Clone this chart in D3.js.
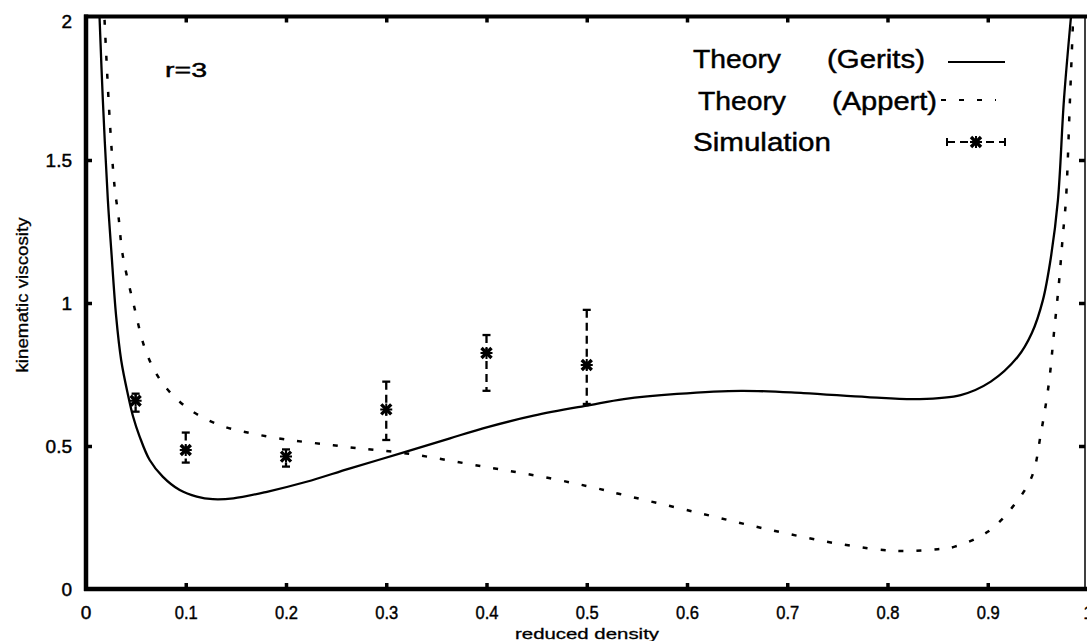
<!DOCTYPE html>
<html>
<head>
<meta charset="utf-8">
<script src="https://cdn.jsdelivr.net/npm/d3@7/dist/d3.min.js"></script>
<style>
  html, body { margin: 0; padding: 0; background: #fff; }
  svg { display: block; }
  text { font-family: "Liberation Sans", Arial, Helvetica, sans-serif; fill: #000; }
</style>
</head>
<body>
<svg id="chart" width="1087" height="641"></svg>
<script>
// ---------------- data ----------------
const xTickValues = [0, 0.1, 0.2, 0.3, 0.4, 0.5, 0.6, 0.7, 0.8, 0.9, 1];
const xTickLabels = ["0", "0.1", "0.2", "0.3", "0.4", "0.5", "0.6", "0.7", "0.8", "0.9", "1"];
const yTickValues = [0, 0.5, 1, 1.5, 2];
const yTickLabels = ["0", "0.5", "1", "1.5", "2"];

// Theory (Gerits) - solid curve
const gerDensity = [0.014, 0.0173, 0.0223, 0.0257, 0.0306, 0.0356, 0.0423, 0.0473, 0.054, 0.064,
  0.077, 0.094, 0.111, 0.127, 0.1475, 0.181, 0.2205, 0.264, 0.32, 0.3636, 0.402, 0.447, 0.503,
  0.537, 0.59, 0.654, 0.716, 0.78, 0.83, 0.873, 0.903, 0.93, 0.944, 0.955, 0.963, 0.97, 0.976, 0.983];
const gerViscosity = [2.0, 1.71, 1.36, 1.185, 0.952, 0.80, 0.68, 0.605, 0.533, 0.451,
  0.393, 0.346, 0.323, 0.314, 0.317, 0.34, 0.375, 0.422, 0.48, 0.527, 0.567, 0.606, 0.643,
  0.664, 0.682, 0.693, 0.685, 0.671, 0.664, 0.678, 0.725, 0.812, 0.895, 1.01, 1.16, 1.36, 1.71, 2.0];

// Theory (Appert) - dashed curve
const appDensity = [0.019, 0.024, 0.029, 0.033, 0.037, 0.0477, 0.061, 0.077, 0.102, 0.134, 0.17,
  0.21, 0.247, 0.264, 0.32, 0.397, 0.4635, 0.51, 0.533, 0.607, 0.68, 0.753, 0.81, 0.85, 0.867,
  0.90, 0.925, 0.944, 0.953, 0.961, 0.966, 0.971, 0.975, 0.978, 0.982, 0.985];
const appViscosity = [1.99, 1.65, 1.407, 1.30, 1.17, 1.0, 0.824, 0.719, 0.632, 0.573, 0.541,
  0.518, 0.503, 0.495, 0.474, 0.428, 0.387, 0.352, 0.332, 0.27, 0.209, 0.157, 0.133, 0.139, 0.148,
  0.2, 0.288, 0.393, 0.544, 0.72, 0.894, 1.069, 1.24, 1.36, 1.71, 1.98];

// Simulation with error bars
const simDensity = [0.05, 0.1, 0.2, 0.3, 0.4, 0.5];
const simViscosity = [0.658, 0.486, 0.463, 0.628, 0.825, 0.783];
const simUpper = [0.683, 0.547, 0.488, 0.725, 0.888, 0.976];
const simLower = [0.62, 0.442, 0.428, 0.521, 0.693, 0.647];

const legendNames = [["Theory", "(Gerits)"], ["Theory", "(Appert)"], ["Simulation", ""]];
const annotation = "r=3";
const xTitle = "reduced density";
const yTitle = "kinematic viscosity";

// ---------------- chart ----------------
(function () {
const svg = d3.select("#chart");
svg.append("rect").attr("width", 1087).attr("height", 641).attr("fill", "#fff");

const x = d3.scaleLinear().domain([0, 1]).range([85.5, 1088]);
const y = d3.scaleLinear().domain([0, 2]).range([589, 17]);

const pL = 86, pR = 1085, pT = 16.5, pB = 589;
const inkStroke = sel => sel.attr("stroke", "#000").attr("stroke-width", 0.45);

svg.append("clipPath").attr("id", "plotclip")
  .append("rect").attr("x", pL).attr("y", pT).attr("width", pR - pL).attr("height", pB - pT);

// axes (ticks pointing inward)
const xAxisB = svg.append("g").attr("transform", `translate(0,${pB})`)
  .call(d3.axisBottom(x).tickValues(xTickValues).tickSize(-6).tickPadding(17)
    .tickFormat((d, i) => xTickLabels[i]));
const xAxisT = svg.append("g").attr("transform", `translate(0,${pT})`)
  .call(d3.axisTop(x).tickValues(xTickValues.slice(1, -1)).tickSize(-6).tickFormat(""));
const yAxisL = svg.append("g").attr("transform", `translate(${pL},0)`)
  .call(d3.axisLeft(y).tickValues(yTickValues).tickSize(-6).tickPadding(14)
    .tickFormat((d, i) => yTickLabels[i]));
const yAxisR = svg.append("g").attr("transform", `translate(${pR},0)`)
  .call(d3.axisRight(y).tickValues(yTickValues.slice(1, -1)).tickSize(-6).tickFormat(""));

[xAxisB, xAxisT, yAxisL, yAxisR].forEach(g => {
  g.select(".domain").remove();
  g.selectAll(".tick line").attr("stroke", "#000").attr("stroke-width", 3.5);
});
xAxisB.selectAll(".tick line").filter(d => d === 0 || d === 1).remove();
yAxisL.selectAll(".tick line").filter(d => d === 0 || d === 2).remove();

xAxisB.selectAll(".tick text")
  .attr("font-size", 19)
  .attr("font-family", "Liberation Sans, Arial, sans-serif")
  .call(inkStroke)
  .each(function (d, i) {
    if (xTickLabels[i].length > 1) d3.select(this).attr("textLength", 23).attr("lengthAdjust", "spacingAndGlyphs");
  });
yAxisL.selectAll(".tick text")
  .attr("font-size", 19)
  .attr("font-family", "Liberation Sans, Arial, sans-serif")
  .call(inkStroke);
yAxisL.selectAll(".tick text").filter(d => d === 2).attr("dy", "0.55em");

// frame
svg.append("line").attr("x1", pL).attr("x2", pL).attr("y1", pT - 2).attr("y2", pB + 2)
  .attr("stroke", "#000").attr("stroke-width", 4.5);
svg.append("line").attr("x1", pL - 2).attr("x2", 1087).attr("y1", pB).attr("y2", pB)
  .attr("stroke", "#000").attr("stroke-width", 4.5);
svg.append("line").attr("x1", pL - 2).attr("x2", 1087).attr("y1", pT).attr("y2", pT)
  .attr("stroke", "#000").attr("stroke-width", 4);
svg.append("line").attr("x1", pR).attr("x2", pR).attr("y1", pT).attr("y2", pB)
  .attr("stroke", "#000").attr("stroke-width", 1.5);

// curves
const plot = svg.append("g").attr("clip-path", "url(#plotclip)");
const line = d3.line().x(d => x(d[0])).y(d => y(d[1])).curve(d3.curveCatmullRom.alpha(0.5));

plot.append("path")
  .datum(gerDensity.map((d, i) => [d, gerViscosity[i]]))
  .attr("d", line).attr("fill", "none").attr("stroke", "#000").attr("stroke-width", 2.3);

plot.append("path")
  .datum(appDensity.map((d, i) => [d, appViscosity[i]]))
  .attr("d", line).attr("fill", "none").attr("stroke", "#000").attr("stroke-width", 2.5)
  .attr("stroke-dasharray", "5,13");

// simulation error bars
const sim = plot.append("g");
const cap = 4;
simDensity.forEach((d, i) => {
  const cx = x(d);
  const yu = y(simUpper[i]), yl = y(simLower[i]);
  sim.append("line").attr("x1", cx).attr("x2", cx).attr("y1", yu).attr("y2", yl)
    .attr("stroke", "#000").attr("stroke-width", 2.3).attr("stroke-dasharray", "8,5");
  sim.append("line").attr("x1", cx - cap).attr("x2", cx + cap).attr("y1", yu).attr("y2", yu)
    .attr("stroke", "#000").attr("stroke-width", 2.3);
  sim.append("line").attr("x1", cx - cap).attr("x2", cx + cap).attr("y1", yl).attr("y2", yl)
    .attr("stroke", "#000").attr("stroke-width", 2.3);
});
function star(g, cx, cy) {
  const r = 5;
  g.append("path").attr("d", `M${cx - r},${cy - r}L${cx + r},${cy + r}M${cx - r},${cy + r}L${cx + r},${cy - r}`)
    .attr("stroke", "#000").attr("stroke-width", 3.4).attr("fill", "none");
  g.append("path").attr("d", `M${cx - r - 1},${cy}H${cx + r + 1}M${cx},${cy - r - 1}V${cy + r + 1}`)
    .attr("stroke", "#000").attr("stroke-width", 2).attr("fill", "none");
}
simDensity.forEach((d, i) => star(sim, x(d), y(simViscosity[i])));

// annotation
svg.append("text").attr("x", 165).attr("y", 77).attr("font-size", 21)
  .attr("textLength", 42).attr("lengthAdjust", "spacingAndGlyphs").call(inkStroke).text(annotation);

// axis titles
svg.append("text").attr("x", 587).attr("y", 638.5).attr("text-anchor", "middle").attr("font-size", 15.5)
  .attr("textLength", 144).attr("lengthAdjust", "spacingAndGlyphs").attr("stroke", "#000").attr("stroke-width", 0.3)
  .text(xTitle);
svg.append("text").attr("transform", "translate(28,295) rotate(-90)").attr("text-anchor", "middle")
  .attr("font-size", 16).attr("textLength", 155).attr("lengthAdjust", "spacingAndGlyphs")
  .attr("stroke", "#000").attr("stroke-width", 0.3).text(yTitle);

// legend
const legend = svg.append("g");
const rows = [
  { y: 68, x1: 693, len1: 88, x2: 827, len2: 98, sy: 62 },
  { y: 110, x1: 698, len1: 88, x2: 832, len2: 105, sy: 100 },
  { y: 151, x1: 693, len1: 138, x2: null, len2: 0, sy: 142 }
];
rows.forEach((r, i) => {
  legend.append("text").attr("x", r.x1).attr("y", r.y).attr("font-size", 26)
    .attr("textLength", r.len1).attr("lengthAdjust", "spacingAndGlyphs").call(inkStroke).text(legendNames[i][0]);
  if (legendNames[i][1]) {
    legend.append("text").attr("x", r.x2).attr("y", r.y).attr("font-size", 26)
      .attr("textLength", r.len2).attr("lengthAdjust", "spacingAndGlyphs").call(inkStroke).text(legendNames[i][1]);
  }
});
legend.append("line").attr("x1", 948).attr("x2", 1005).attr("y1", rows[0].sy).attr("y2", rows[0].sy)
  .attr("stroke", "#000").attr("stroke-width", 2);
legend.append("line").attr("x1", 941).attr("x2", 996).attr("y1", rows[1].sy).attr("y2", rows[1].sy)
  .attr("stroke", "#000").attr("stroke-width", 2.2).attr("stroke-dasharray", "5,13");
const ly = rows[2].sy;
legend.append("line").attr("x1", 947).attr("x2", 1005).attr("y1", ly).attr("y2", ly)
  .attr("stroke", "#000").attr("stroke-width", 2).attr("stroke-dasharray", "8,5");
legend.append("line").attr("x1", 947).attr("x2", 947).attr("y1", ly - 4).attr("y2", ly + 4)
  .attr("stroke", "#000").attr("stroke-width", 2);
legend.append("line").attr("x1", 1005).attr("x2", 1005).attr("y1", ly - 4).attr("y2", ly + 4)
  .attr("stroke", "#000").attr("stroke-width", 2);
star(legend, 976, ly);
})();
</script>
</body>
</html>
